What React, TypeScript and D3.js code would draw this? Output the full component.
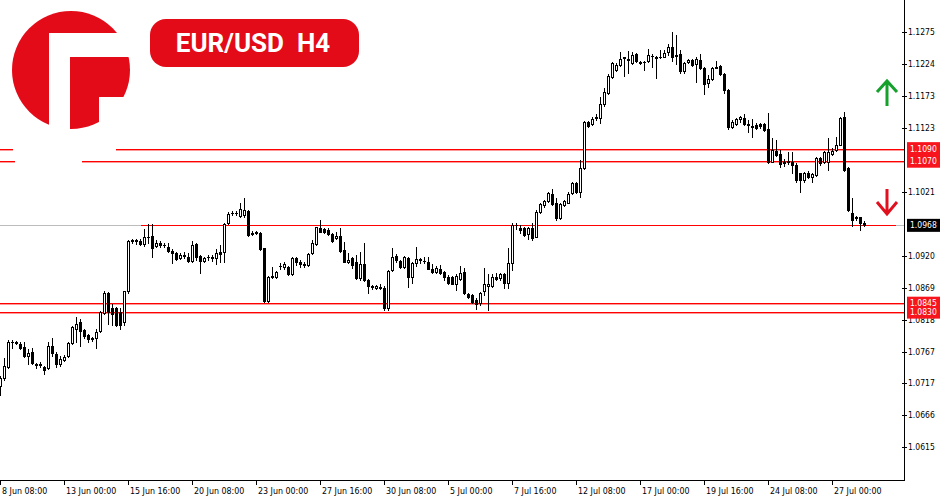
import React from "react";
import * as d3 from "d3";

// H4 EUR/USD candles, bar 0 = 8 Jun 08:00
const openP = [
  1.0713, 1.0725, 1.0743, 1.0782, 1.0781, 1.0779, 1.0775, 1.0760, 1.0767, 1.0746,
  1.0747, 1.0743, 1.0741, 1.0776, 1.0764, 1.0748, 1.0754, 1.0760, 1.0781, 1.0803,
  1.0814, 1.0802, 1.0794, 1.0787, 1.0789, 1.0800, 1.0829, 1.0861, 1.0837, 1.0837,
  1.0830, 1.0814, 1.0864, 1.0943, 1.0944, 1.0943, 1.0938, 1.0949, 1.0951, 1.0935,
  1.0940, 1.0937, 1.0934, 1.0927, 1.0924, 1.0916, 1.0921, 1.0918, 1.0911, 1.0938,
  1.0919, 1.0911, 1.0918, 1.0916, 1.0916, 1.0926, 1.0926, 1.0972, 1.0988, 1.0987,
  1.0983, 1.0985, 1.0991, 1.0956, 1.0956, 1.0956, 1.0932, 1.0848, 1.0886, 1.0886,
  1.0903, 1.0902, 1.0902, 1.0891, 1.0916, 1.0910, 1.0905, 1.0905, 1.0924, 1.0938,
  1.0964, 1.0962, 1.0961, 1.0954, 1.0948, 1.0951, 1.0929, 1.0910, 1.0916, 1.0910,
  1.0884, 1.0907, 1.0881, 1.0870, 1.0868, 1.0870, 1.0868, 1.0837, 1.0897, 1.0919,
  1.0911, 1.0902, 1.0916, 1.0886, 1.0908, 1.0914, 1.0911, 1.0910, 1.0899, 1.0894,
  1.0899, 1.0894, 1.0886, 1.0886, 1.0875, 1.0883, 1.0894, 1.0859, 1.0857, 1.0849,
  1.0845, 1.0864, 1.0872, 1.0872, 1.0886, 1.0884, 1.0891, 1.0876, 1.0908, 1.0969,
  1.0964, 1.0964, 1.0954, 1.0964, 1.0950, 1.0989, 1.1000, 1.1007, 1.1018, 1.1004,
  1.0980, 1.1000, 1.1004, 1.1020, 1.1035, 1.1021, 1.1059, 1.1132, 1.1129, 1.1140,
  1.1139, 1.1161, 1.1179, 1.1204, 1.1215, 1.1223, 1.1234, 1.1231, 1.1226, 1.1240,
  1.1226, 1.1228, 1.1229, 1.1237, 1.1236, 1.1236, 1.1236, 1.1244, 1.1252, 1.1239,
  1.1240, 1.1213, 1.1228, 1.1231, 1.1225, 1.1231, 1.1218, 1.1194, 1.1201, 1.1220,
  1.1221, 1.1209, 1.1183, 1.1124, 1.1129, 1.1137, 1.1139, 1.1129, 1.1126, 1.1128,
  1.1129, 1.1129, 1.1121, 1.1069, 1.1086, 1.1082, 1.1067, 1.1069, 1.1069, 1.1064,
  1.1051, 1.1040, 1.1051, 1.1045, 1.1048, 1.1075, 1.1069, 1.1069, 1.1082, 1.1088,
  1.1096, 1.1140, 1.1059, 1.0988, 1.0980, 1.0981, 1.0972,
];

const highP = [
  1.0729, 1.0757, 1.0786, 1.0785, 1.0784, 1.0783, 1.0783, 1.0771, 1.0773, 1.0749,
  1.0750, 1.0744, 1.0783, 1.0789, 1.0767, 1.0760, 1.0762, 1.0783, 1.0808, 1.0822,
  1.0819, 1.0803, 1.0795, 1.0791, 1.0803, 1.0832, 1.0864, 1.0862, 1.0843, 1.0838,
  1.0837, 1.0864, 1.0945, 1.0946, 1.0947, 1.0946, 1.0962, 1.0970, 1.0970, 1.0945,
  1.0943, 1.0940, 1.0940, 1.0930, 1.0926, 1.0924, 1.0926, 1.0924, 1.0943, 1.0940,
  1.0921, 1.0918, 1.0921, 1.0921, 1.0930, 1.0937, 1.0972, 1.0989, 1.0991, 1.0991,
  1.1004, 1.1012, 1.0993, 1.0959, 1.0959, 1.0958, 1.0932, 1.0887, 1.0902, 1.0895,
  1.0908, 1.0910, 1.0903, 1.0918, 1.0918, 1.0913, 1.0910, 1.0924, 1.0945, 1.0966,
  1.0977, 1.0964, 1.0964, 1.0956, 1.0958, 1.0964, 1.0942, 1.0924, 1.0918, 1.0921,
  1.0926, 1.0940, 1.0883, 1.0873, 1.0873, 1.0875, 1.0872, 1.0897, 1.0932, 1.0923,
  1.0913, 1.0919, 1.0918, 1.0910, 1.0934, 1.0916, 1.0918, 1.0918, 1.0907, 1.0903,
  1.0905, 1.0895, 1.0889, 1.0888, 1.0891, 1.0903, 1.0900, 1.0861, 1.0859, 1.0853,
  1.0862, 1.0900, 1.0891, 1.0891, 1.0892, 1.0892, 1.0892, 1.0932, 1.0972, 1.0972,
  1.0969, 1.0966, 1.0966, 1.0972, 1.0993, 1.1004, 1.1008, 1.1021, 1.1026, 1.1012,
  1.1004, 1.1008, 1.1021, 1.1037, 1.1037, 1.1072, 1.1134, 1.1134, 1.1140, 1.1145,
  1.1172, 1.1187, 1.1209, 1.1228, 1.1226, 1.1244, 1.1236, 1.1245, 1.1244, 1.1242,
  1.1229, 1.1229, 1.1249, 1.1241, 1.1237, 1.1247, 1.1247, 1.1256, 1.1276, 1.1271,
  1.1247, 1.1228, 1.1233, 1.1233, 1.1236, 1.1240, 1.1220, 1.1207, 1.1220, 1.1229,
  1.1223, 1.1210, 1.1185, 1.1136, 1.1139, 1.1142, 1.1145, 1.1136, 1.1137, 1.1131,
  1.1131, 1.1131, 1.1147, 1.1107, 1.1104, 1.1088, 1.1074, 1.1085, 1.1085, 1.1067,
  1.1052, 1.1053, 1.1054, 1.1051, 1.1077, 1.1077, 1.1086, 1.1107, 1.1091, 1.1109,
  1.1140, 1.1148, 1.1061, 1.1012, 1.0983, 1.0982, 1.0975,
];

const lowP = [
  1.0698, 1.0722, 1.0741, 1.0773, 1.0779, 1.0772, 1.0759, 1.0748, 1.0748, 1.0741,
  1.0742, 1.0732, 1.0740, 1.0760, 1.0743, 1.0744, 1.0752, 1.0759, 1.0779, 1.0783,
  1.0776, 1.0789, 1.0783, 1.0784, 1.0773, 1.0799, 1.0827, 1.0811, 1.0810, 1.0808,
  1.0803, 1.0810, 1.0861, 1.0940, 1.0939, 1.0937, 1.0935, 1.0940, 1.0918, 1.0934,
  1.0934, 1.0933, 1.0926, 1.0908, 1.0913, 1.0915, 1.0916, 1.0910, 1.0910, 1.0913,
  1.0892, 1.0909, 1.0913, 1.0911, 1.0907, 1.0910, 1.0910, 1.0970, 1.0985, 1.0984,
  1.0981, 1.0981, 1.0951, 1.0953, 1.0955, 1.0929, 1.0846, 1.0846, 1.0884, 1.0884,
  1.0899, 1.0899, 1.0889, 1.0889, 1.0905, 1.0902, 1.0902, 1.0903, 1.0923, 1.0937,
  1.0957, 1.0956, 1.0953, 1.0942, 1.0946, 1.0926, 1.0909, 1.0908, 1.0900, 1.0883,
  1.0881, 1.0880, 1.0861, 1.0867, 1.0867, 1.0867, 1.0834, 1.0834, 1.0895, 1.0910,
  1.0900, 1.0900, 1.0870, 1.0876, 1.0903, 1.0908, 1.0908, 1.0898, 1.0892, 1.0892,
  1.0891, 1.0881, 1.0875, 1.0874, 1.0865, 1.0881, 1.0859, 1.0853, 1.0845, 1.0835,
  1.0842, 1.0857, 1.0834, 1.0870, 1.0881, 1.0881, 1.0868, 1.0868, 1.0897, 1.0962,
  1.0956, 1.0951, 1.0946, 1.0945, 1.0949, 1.0988, 1.0997, 1.1005, 1.1000, 1.0977,
  1.0978, 1.0999, 1.1003, 1.1018, 1.1020, 1.1013, 1.1058, 1.1124, 1.1128, 1.1136,
  1.1131, 1.1158, 1.1177, 1.1202, 1.1213, 1.1221, 1.1206, 1.1210, 1.1225, 1.1228,
  1.1225, 1.1215, 1.1228, 1.1220, 1.1202, 1.1234, 1.1235, 1.1239, 1.1229, 1.1225,
  1.1210, 1.1210, 1.1226, 1.1221, 1.1196, 1.1217, 1.1177, 1.1188, 1.1199, 1.1218,
  1.1207, 1.1178, 1.1121, 1.1123, 1.1128, 1.1132, 1.1128, 1.1117, 1.1109, 1.1121,
  1.1123, 1.1118, 1.1067, 1.1068, 1.1078, 1.1061, 1.1063, 1.1066, 1.1051, 1.1037,
  1.1021, 1.1037, 1.1043, 1.1037, 1.1046, 1.1064, 1.1067, 1.1056, 1.1080, 1.1086,
  1.1095, 1.1055, 1.0991, 1.0967, 1.0977, 1.0961, 1.0967,
];

const closeP = [
  1.0725, 1.0744, 1.0783, 1.0783, 1.0782, 1.0773, 1.0760, 1.0765, 1.0749, 1.0747,
  1.0746, 1.0738, 1.0776, 1.0765, 1.0748, 1.0756, 1.0759, 1.0781, 1.0806, 1.0811,
  1.0800, 1.0792, 1.0787, 1.0789, 1.0799, 1.0830, 1.0861, 1.0830, 1.0827, 1.0810,
  1.0810, 1.0864, 1.0943, 1.0944, 1.0943, 1.0938, 1.0950, 1.0950, 1.0932, 1.0940,
  1.0937, 1.0936, 1.0927, 1.0924, 1.0915, 1.0921, 1.0920, 1.0911, 1.0937, 1.0918,
  1.0911, 1.0916, 1.0917, 1.0917, 1.0924, 1.0923, 1.0970, 1.0986, 1.0987, 1.0988,
  1.0994, 1.0993, 1.0953, 1.0955, 1.0958, 1.0930, 1.0848, 1.0886, 1.0888, 1.0894,
  1.0904, 1.0907, 1.0891, 1.0916, 1.0910, 1.0907, 1.0906, 1.0923, 1.0940, 1.0965,
  1.0958, 1.0958, 1.0954, 1.0943, 1.0951, 1.0927, 1.0910, 1.0913, 1.0905, 1.0884,
  1.0907, 1.0881, 1.0872, 1.0871, 1.0872, 1.0869, 1.0837, 1.0895, 1.0918, 1.0913,
  1.0902, 1.0918, 1.0886, 1.0908, 1.0915, 1.0913, 1.0912, 1.0899, 1.0894, 1.0900,
  1.0892, 1.0886, 1.0876, 1.0875, 1.0888, 1.0892, 1.0861, 1.0854, 1.0846, 1.0843,
  1.0861, 1.0875, 1.0875, 1.0886, 1.0883, 1.0891, 1.0876, 1.0908, 1.0969, 1.0968,
  1.0961, 1.0953, 1.0964, 1.0948, 1.0989, 1.1002, 1.1007, 1.1020, 1.1002, 1.0980,
  1.1002, 1.1007, 1.1018, 1.1035, 1.1021, 1.1059, 1.1132, 1.1126, 1.1137, 1.1139,
  1.1161, 1.1180, 1.1206, 1.1226, 1.1223, 1.1233, 1.1235, 1.1233, 1.1239, 1.1229,
  1.1227, 1.1227, 1.1239, 1.1238, 1.1234, 1.1235, 1.1242, 1.1252, 1.1236, 1.1238,
  1.1213, 1.1226, 1.1231, 1.1223, 1.1233, 1.1218, 1.1193, 1.1201, 1.1218, 1.1219,
  1.1209, 1.1183, 1.1124, 1.1132, 1.1137, 1.1140, 1.1129, 1.1128, 1.1125, 1.1123,
  1.1126, 1.1120, 1.1069, 1.1088, 1.1080, 1.1066, 1.1068, 1.1070, 1.1064, 1.1040,
  1.1040, 1.1051, 1.1045, 1.1050, 1.1075, 1.1067, 1.1085, 1.1085, 1.1086, 1.1096,
  1.1139, 1.1056, 1.0993, 1.0977, 1.0981, 1.0972, 1.0968,
];

const xTickIndex = [0, 16, 32, 48, 64, 80, 96, 112, 128, 144, 160, 176, 192, 208];
const xTickLabels = [
  "8 Jun 08:00", "13 Jun 00:00", "15 Jun 16:00", "20 Jun 08:00", "23 Jun 00:00",
  "27 Jun 16:00", "30 Jun 08:00", "5 Jul 00:00", "7 Jul 16:00", "12 Jul 08:00",
  "17 Jul 00:00", "19 Jul 16:00", "24 Jul 08:00", "27 Jul 00:00",
];
const yTickValues = [
  1.1275, 1.1224, 1.1173, 1.1123, 1.1021, 1.092, 1.0869, 1.0818, 1.0767, 1.0717, 1.0666, 1.0615,
];
const resistanceLevels = [1.109, 1.107];
const supportLevels = [1.0845, 1.083];
const lastPrice = 1.0968;
const priceDomain = [1.0563, 1.13264];
const barSlots = 226;
const title = "EUR/USD\u00a0 H4";

const W = 950;
const H = 500;
const plotR = 904;
const plotB = 480;
const RED = "#ff0000";
const LABEL_RED = "#f8141c";
const BRAND = "#e30b18";
const axisFont = "'DejaVu Sans Condensed', 'DejaVu Sans', sans-serif";

export default function App() {
  const x = d3.scaleLinear().domain([0, barSlots]).range([0.5, plotR + 0.5]);
  const y = d3.scaleLinear().domain(priceDomain).range([plotB, 0]);
  const fmt = d3.format(".4f");
  const py = (v: number) => Math.round(y(v)) + 0.5;
  const row = (v: number) => Math.round(y(v));

  const candles = openP.map((o, i) => {
    const c = closeP[i];
    const hi = highP[i];
    const lo = lowP[i];
    const cx = Math.floor(x(i)) + 0.5;
    const yTop = Math.round(y(Math.max(o, c)));
    const yBot = Math.round(y(Math.min(o, c)));
    const yH = Math.round(y(hi));
    const yL = Math.round(y(lo));
    const bull = c >= o;
    return (
      <g key={i}>
        <line x1={cx} x2={cx} y1={yH} y2={yL + 1} stroke="#000" strokeWidth={1} />
        {yBot - yTop < 1 ? (
          <line x1={cx - 1.5} x2={cx + 1.5} y1={yTop + 0.5} y2={yTop + 0.5} stroke="#000" strokeWidth={1} />
        ) : (
          <rect
            x={cx - 1}
            y={yTop + 0.5}
            width={2}
            height={yBot - yTop}
            fill={bull ? "#fff" : "#000"}
            stroke="#000"
            strokeWidth={1}
          />
        )}
      </g>
    );
  });

  const lastRow = row(lastPrice);

  return (
    <svg
      width={W}
      height={H}
      viewBox={`0 0 ${W} ${H}`}
      style={{ position: "absolute", left: 0, top: 0, display: "block", background: "#fff" }}
    >
      <rect x={0} y={0} width={W} height={H} fill="#fff" />

      {/* bid line and price level lines */}
      <g shapeRendering="crispEdges">
        <rect x={0} y={lastRow} width={plotR} height={1} fill="#bdbdbd" />
        <rect x={141} y={lastRow} width={755} height={1} fill={RED} />
      </g>
      {[...resistanceLevels, ...supportLevels].map((v, i) => (
        <rect key={i} x={0} y={row(v)} width={plotR} height={1.4} fill={RED} />
      ))}

      {/* candles */}
      <g shapeRendering="crispEdges">{candles}</g>

      {/* logo */}
      <g>
        <path d="M13,139 L116,139 L116,153 L82,153 L82,166 L15,166 L15,153 L13,153 Z" fill="#fff" />
        <circle cx={71} cy={70} r={59} fill={BRAND} />
        <rect x={49} y={33} width={21} height={100} fill="#fff" />
        <rect x={49} y={33} width={92} height={24} fill="#fff" />
        <rect x={99} y={97} width={40} height={40} fill="#fff" />
      </g>

      {/* title badge */}
      <rect x={150} y={19} width={209} height={48} rx={16} ry={16} fill={BRAND} />
      <text
        x={253}
        y={52}
        textAnchor="middle"
        fill="#fff"
        fontFamily="Roboto, 'Open Sans', sans-serif"
        fontWeight={700}
        fontSize={26}
        style={{ whiteSpace: "pre" }}
      >
        {title}
      </text>

      {/* arrows */}
      <g fill="none" strokeWidth={3} strokeLinecap="butt" strokeLinejoin="miter">
        <path d="M887,106 L887,81 M877,92 L887,81 L897,92" stroke="#16a02c" />
        <path d="M887,189 L887,213 M877,202 L887,214 L897,202" stroke="#e0101e" />
      </g>

      {/* axes */}
      <g shapeRendering="crispEdges" stroke="#000" strokeWidth={1}>
        <line x1={plotR + 0.5} x2={plotR + 0.5} y1={0} y2={plotB + 1} />
        <line x1={0} x2={plotR + 1} y1={plotB + 0.5} y2={plotB + 0.5} />
        {yTickValues.map((v, i) => (
          <line key={i} x1={plotR - 2} x2={plotR + 3} y1={py(v)} y2={py(v)} />
        ))}
        {xTickIndex.map((b, i) => (
          <line key={i} x1={Math.floor(x(b)) + 0.5} x2={Math.floor(x(b)) + 0.5} y1={plotB} y2={plotB + 5} />
        ))}
      </g>

      <g fontFamily={axisFont} fill="#000">
        {yTickValues.map((v, i) => (
          <text key={i} x={908} y={y(v) + 3} fontSize={8.5}>
            {fmt(v)}
          </text>
        ))}
        {xTickIndex.map((b, i) => (
          <text key={i} x={Math.floor(x(b)) + 2} y={494} fontSize={8.8}>
            {xTickLabels[i]}
          </text>
        ))}
      </g>

      {/* price labels */}
      <g fontFamily={axisFont} fontSize={8.5}>
        <rect
          x={907}
          y={y(resistanceLevels[0]) - 6.5}
          width={33}
          height={y(resistanceLevels[1]) - y(resistanceLevels[0]) + 13}
          fill={LABEL_RED}
        />
        {resistanceLevels.map((v, i) => (
          <text key={i} x={910} y={y(v) + 3} fill="#fff">
            {fmt(v)}
          </text>
        ))}
        <rect
          x={907}
          y={y(supportLevels[0]) - 6}
          width={33}
          height={y(supportLevels[1]) - y(supportLevels[0]) + 12.5}
          fill={LABEL_RED}
        />
        {supportLevels.map((v, i) => (
          <text key={i} x={910} y={y(v) + 3} fill="#fff">
            {fmt(v)}
          </text>
        ))}
        <rect x={907} y={y(lastPrice) - 6.5} width={33} height={13} fill="#000" />
        <text x={910} y={y(lastPrice) + 3} fill="#fff">
          {fmt(lastPrice)}
        </text>
      </g>
    </svg>
  );
}
